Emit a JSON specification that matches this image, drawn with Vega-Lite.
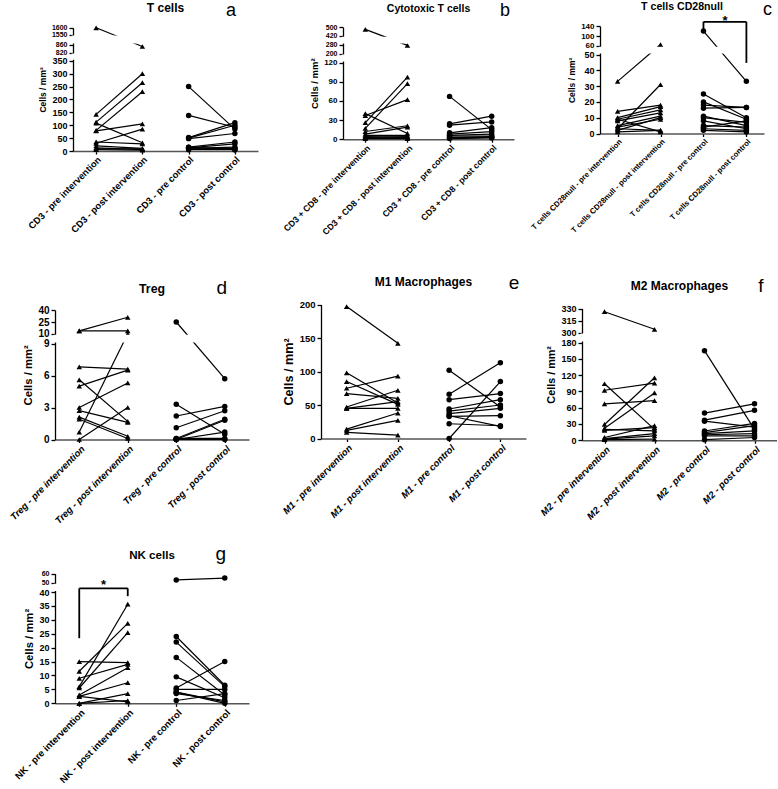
{
"$schema": "https://vega.github.io/schema/vega-lite/v6.json",
"background": "white",
"padding": {"left": 8, "top": 0, "right": 0, "bottom": 0},
"columns": 3,
"spacing": 0,
"bounds": "flush",
"align": {"row": "each", "column": "each"},
"resolve": {"scale": {"x": "independent", "y": "independent"}, "axis": {"x": "independent", "y": "independent"}},
"config": {
 "view": {"stroke": null},
 "font": "Liberation Sans",
 "axis": {"domainColor": "black", "domainWidth": 1.3, "tickColor": "black", "tickWidth": 1.3, "labelColor": "black", "titleColor": "black", "labelFontWeight": "bold", "titleFontWeight": "bold", "grid": false, "labelFont": "Liberation Sans", "titleFont": "Liberation Sans", "tickSize": 4, "labelPadding": 2, "titlePadding": 4, "labelOverlap": false},
 "axisY": {"tickCount": 40, "format": "d"},
 "axisX": {"domainColor": "#555555", "domainWidth": 1.6, "tickSize": 3, "labelAngle": -45, "labelPadding": 1}
},
"datasets": {
 "a": [
  {"id":1,"cat":"pre intervention","v":1600},{"id":1,"cat":"post intervention","v":850},
  {"id":2,"cat":"pre intervention","v":142},{"id":2,"cat":"post intervention","v":300},
  {"id":3,"cat":"pre intervention","v":112},{"id":3,"cat":"post intervention","v":265},
  {"id":4,"cat":"pre intervention","v":80},{"id":4,"cat":"post intervention","v":230},
  {"id":5,"cat":"pre intervention","v":108},{"id":5,"cat":"post intervention","v":32},
  {"id":6,"cat":"pre intervention","v":78},{"id":6,"cat":"post intervention","v":105},
  {"id":7,"cat":"pre intervention","v":30},{"id":7,"cat":"post intervention","v":85},
  {"id":8,"cat":"pre intervention","v":35},{"id":8,"cat":"post intervention","v":28},
  {"id":9,"cat":"pre intervention","v":20},{"id":9,"cat":"post intervention","v":10},
  {"id":10,"cat":"pre intervention","v":12},{"id":10,"cat":"post intervention","v":5},
  {"id":11,"cat":"pre intervention","v":5},{"id":11,"cat":"post intervention","v":3},
  {"id":12,"cat":"pre intervention","v":8},{"id":12,"cat":"post intervention","v":8},
  {"id":13,"cat":"pre control","v":250},{"id":13,"cat":"post control","v":85},
  {"id":14,"cat":"pre control","v":138},{"id":14,"cat":"post control","v":92},
  {"id":15,"cat":"pre control","v":52},{"id":15,"cat":"post control","v":110},
  {"id":16,"cat":"pre control","v":50},{"id":16,"cat":"post control","v":100},
  {"id":17,"cat":"pre control","v":48},{"id":17,"cat":"post control","v":68},
  {"id":18,"cat":"pre control","v":15},{"id":18,"cat":"post control","v":35},
  {"id":19,"cat":"pre control","v":12},{"id":19,"cat":"post control","v":28},
  {"id":20,"cat":"pre control","v":10},{"id":20,"cat":"post control","v":15},
  {"id":21,"cat":"pre control","v":8},{"id":21,"cat":"post control","v":10},
  {"id":22,"cat":"pre control","v":5},{"id":22,"cat":"post control","v":5},
  {"id":23,"cat":"pre control","v":15},{"id":23,"cat":"post control","v":5}
 ],
 "b": [
  {"id":1,"cat":"pre intervention","v":480},{"id":1,"cat":"post intervention","v":272},
  {"id":2,"cat":"pre intervention","v":40},{"id":2,"cat":"post intervention","v":9},
  {"id":3,"cat":"pre intervention","v":37},{"id":3,"cat":"post intervention","v":62},
  {"id":4,"cat":"pre intervention","v":26},{"id":4,"cat":"post intervention","v":97},
  {"id":5,"cat":"pre intervention","v":17},{"id":5,"cat":"post intervention","v":87},
  {"id":6,"cat":"pre intervention","v":12},{"id":6,"cat":"post intervention","v":21},
  {"id":7,"cat":"pre intervention","v":8},{"id":7,"cat":"post intervention","v":19},
  {"id":8,"cat":"pre intervention","v":6},{"id":8,"cat":"post intervention","v":6},
  {"id":9,"cat":"pre intervention","v":4},{"id":9,"cat":"post intervention","v":3},
  {"id":10,"cat":"pre intervention","v":3},{"id":10,"cat":"post intervention","v":4},
  {"id":11,"cat":"pre intervention","v":2},{"id":11,"cat":"post intervention","v":2},
  {"id":12,"cat":"pre intervention","v":1},{"id":12,"cat":"post intervention","v":1},
  {"id":13,"cat":"pre control","v":67},{"id":13,"cat":"post control","v":15},
  {"id":14,"cat":"pre control","v":24},{"id":14,"cat":"post control","v":36},
  {"id":15,"cat":"pre control","v":22},{"id":15,"cat":"post control","v":27},
  {"id":16,"cat":"pre control","v":10},{"id":16,"cat":"post control","v":18},
  {"id":17,"cat":"pre control","v":8},{"id":17,"cat":"post control","v":12},
  {"id":18,"cat":"pre control","v":6},{"id":18,"cat":"post control","v":8},
  {"id":19,"cat":"pre control","v":5},{"id":19,"cat":"post control","v":5},
  {"id":20,"cat":"pre control","v":3},{"id":20,"cat":"post control","v":4},
  {"id":21,"cat":"pre control","v":2},{"id":21,"cat":"post control","v":3},
  {"id":22,"cat":"pre control","v":1},{"id":22,"cat":"post control","v":2}
 ],
 "c": [
  {"id":1,"cat":"pre intervention","v":33},{"id":1,"cat":"post intervention","v":65},
  {"id":2,"cat":"pre intervention","v":3},{"id":2,"cat":"post intervention","v":31},
  {"id":3,"cat":"pre intervention","v":14},{"id":3,"cat":"post intervention","v":18},
  {"id":4,"cat":"pre intervention","v":10},{"id":4,"cat":"post intervention","v":17},
  {"id":5,"cat":"pre intervention","v":9},{"id":5,"cat":"post intervention","v":15},
  {"id":6,"cat":"pre intervention","v":8},{"id":6,"cat":"post intervention","v":13},
  {"id":7,"cat":"pre intervention","v":5},{"id":7,"cat":"post intervention","v":11},
  {"id":8,"cat":"pre intervention","v":4},{"id":8,"cat":"post intervention","v":9},
  {"id":9,"cat":"pre intervention","v":2},{"id":9,"cat":"post intervention","v":10},
  {"id":10,"cat":"pre intervention","v":1},{"id":10,"cat":"post intervention","v":2},
  {"id":11,"cat":"pre intervention","v":9},{"id":11,"cat":"post intervention","v":1},
  {"id":12,"cat":"pre intervention","v":3},{"id":12,"cat":"post intervention","v":2},
  {"id":13,"cat":"pre control","v":120},{"id":13,"cat":"post control","v":33},
  {"id":14,"cat":"pre control","v":25},{"id":14,"cat":"post control","v":10},
  {"id":15,"cat":"pre control","v":20},{"id":15,"cat":"post control","v":9},
  {"id":16,"cat":"pre control","v":18},{"id":16,"cat":"post control","v":16.5},
  {"id":17,"cat":"pre control","v":16},{"id":17,"cat":"post control","v":16.5},
  {"id":18,"cat":"pre control","v":11},{"id":18,"cat":"post control","v":5},
  {"id":19,"cat":"pre control","v":10},{"id":19,"cat":"post control","v":7},
  {"id":20,"cat":"pre control","v":8},{"id":20,"cat":"post control","v":3},
  {"id":21,"cat":"pre control","v":5},{"id":21,"cat":"post control","v":4},
  {"id":22,"cat":"pre control","v":4},{"id":22,"cat":"post control","v":8},
  {"id":23,"cat":"pre control","v":3},{"id":23,"cat":"post control","v":2},
  {"id":24,"cat":"pre control","v":2},{"id":24,"cat":"post control","v":1}
 ],
 "d": [
  {"id":1,"cat":"pre intervention","v":13.7},{"id":1,"cat":"post intervention","v":31},
  {"id":2,"cat":"pre intervention","v":13.7},{"id":2,"cat":"post intervention","v":13.7},
  {"id":3,"cat":"pre intervention","v":0.7},{"id":3,"cat":"post intervention","v":10},
  {"id":4,"cat":"pre intervention","v":6.8},{"id":4,"cat":"post intervention","v":6.6},
  {"id":5,"cat":"pre intervention","v":5.0},{"id":5,"cat":"post intervention","v":6.5},
  {"id":6,"cat":"pre intervention","v":3.0},{"id":6,"cat":"post intervention","v":5.3},
  {"id":7,"cat":"pre intervention","v":5.6},{"id":7,"cat":"post intervention","v":1.7},
  {"id":8,"cat":"pre intervention","v":2.7},{"id":8,"cat":"post intervention","v":1.6},
  {"id":9,"cat":"pre intervention","v":0},{"id":9,"cat":"post intervention","v":3.0},
  {"id":10,"cat":"pre intervention","v":2.1},{"id":10,"cat":"post intervention","v":0.3},
  {"id":11,"cat":"pre intervention","v":1.9},{"id":11,"cat":"post intervention","v":0.1},
  {"id":12,"cat":"pre control","v":25},{"id":12,"cat":"post control","v":5.7},
  {"id":13,"cat":"pre control","v":3.3},{"id":13,"cat":"post control","v":0.5},
  {"id":14,"cat":"pre control","v":2.2},{"id":14,"cat":"post control","v":3.1},
  {"id":15,"cat":"pre control","v":1.1},{"id":15,"cat":"post control","v":2.7},
  {"id":16,"cat":"pre control","v":0.1},{"id":16,"cat":"post control","v":1.9},
  {"id":17,"cat":"pre control","v":0},{"id":17,"cat":"post control","v":1.8},
  {"id":18,"cat":"pre control","v":0},{"id":18,"cat":"post control","v":0.7},
  {"id":19,"cat":"pre control","v":0.1},{"id":19,"cat":"post control","v":0.1},
  {"id":20,"cat":"pre control","v":0},{"id":20,"cat":"post control","v":0}
 ],
 "e": [
  {"id":1,"cat":"pre intervention","v":197},{"id":1,"cat":"post intervention","v":142},
  {"id":2,"cat":"pre intervention","v":98},{"id":2,"cat":"post intervention","v":53},
  {"id":3,"cat":"pre intervention","v":85},{"id":3,"cat":"post intervention","v":51},
  {"id":4,"cat":"pre intervention","v":75},{"id":4,"cat":"post intervention","v":93},
  {"id":5,"cat":"pre intervention","v":67},{"id":5,"cat":"post intervention","v":60},
  {"id":6,"cat":"pre intervention","v":47},{"id":6,"cat":"post intervention","v":72},
  {"id":7,"cat":"pre intervention","v":45},{"id":7,"cat":"post intervention","v":55},
  {"id":8,"cat":"pre intervention","v":14},{"id":8,"cat":"post intervention","v":38},
  {"id":9,"cat":"pre intervention","v":12},{"id":9,"cat":"post intervention","v":27},
  {"id":10,"cat":"pre intervention","v":9},{"id":10,"cat":"post intervention","v":5},
  {"id":11,"cat":"pre intervention","v":45},{"id":11,"cat":"post intervention","v":45},
  {"id":12,"cat":"pre control","v":102},{"id":12,"cat":"post control","v":47},
  {"id":13,"cat":"pre control","v":66},{"id":13,"cat":"post control","v":113},
  {"id":14,"cat":"pre control","v":58},{"id":14,"cat":"post control","v":67},
  {"id":15,"cat":"pre control","v":44},{"id":15,"cat":"post control","v":58},
  {"id":16,"cat":"pre control","v":41},{"id":16,"cat":"post control","v":50},
  {"id":17,"cat":"pre control","v":37},{"id":17,"cat":"post control","v":45},
  {"id":18,"cat":"pre control","v":33},{"id":18,"cat":"post control","v":34},
  {"id":19,"cat":"pre control","v":22},{"id":19,"cat":"post control","v":19},
  {"id":20,"cat":"pre control","v":0},{"id":20,"cat":"post control","v":85},
  {"id":21,"cat":"pre control","v":34},{"id":21,"cat":"post control","v":18}
 ],
 "f": [
  {"id":1,"cat":"pre intervention","v":326},{"id":1,"cat":"post intervention","v":304},
  {"id":2,"cat":"pre intervention","v":92},{"id":2,"cat":"post intervention","v":105},
  {"id":3,"cat":"pre intervention","v":67},{"id":3,"cat":"post intervention","v":73},
  {"id":4,"cat":"pre intervention","v":104},{"id":4,"cat":"post intervention","v":20},
  {"id":5,"cat":"pre intervention","v":29},{"id":5,"cat":"post intervention","v":115},
  {"id":6,"cat":"pre intervention","v":22},{"id":6,"cat":"post intervention","v":87},
  {"id":7,"cat":"pre intervention","v":18},{"id":7,"cat":"post intervention","v":23},
  {"id":8,"cat":"pre intervention","v":5},{"id":8,"cat":"post intervention","v":27},
  {"id":9,"cat":"pre intervention","v":3},{"id":9,"cat":"post intervention","v":12},
  {"id":10,"cat":"pre intervention","v":2},{"id":10,"cat":"post intervention","v":8},
  {"id":11,"cat":"pre intervention","v":1},{"id":11,"cat":"post intervention","v":2},
  {"id":12,"cat":"pre intervention","v":20},{"id":12,"cat":"post intervention","v":17},
  {"id":13,"cat":"pre control","v":165},{"id":13,"cat":"post control","v":20},
  {"id":14,"cat":"pre control","v":50},{"id":14,"cat":"post control","v":67},
  {"id":15,"cat":"pre control","v":37},{"id":15,"cat":"post control","v":55},
  {"id":16,"cat":"pre control","v":35},{"id":16,"cat":"post control","v":24},
  {"id":17,"cat":"pre control","v":17},{"id":17,"cat":"post control","v":31},
  {"id":18,"cat":"pre control","v":14},{"id":18,"cat":"post control","v":27},
  {"id":19,"cat":"pre control","v":12},{"id":19,"cat":"post control","v":17},
  {"id":20,"cat":"pre control","v":10},{"id":20,"cat":"post control","v":12},
  {"id":21,"cat":"pre control","v":8},{"id":21,"cat":"post control","v":8},
  {"id":22,"cat":"pre control","v":1},{"id":22,"cat":"post control","v":5}
 ],
 "g": [
  {"id":1,"cat":"pre intervention","v":15},{"id":1,"cat":"post intervention","v":14.6},
  {"id":2,"cat":"pre intervention","v":11.5},{"id":2,"cat":"post intervention","v":28.7},
  {"id":3,"cat":"pre intervention","v":9},{"id":3,"cat":"post intervention","v":14},
  {"id":4,"cat":"pre intervention","v":6},{"id":4,"cat":"post intervention","v":35.6},
  {"id":5,"cat":"pre intervention","v":5.5},{"id":5,"cat":"post intervention","v":25.4},
  {"id":6,"cat":"pre intervention","v":3},{"id":6,"cat":"post intervention","v":12.8},
  {"id":7,"cat":"pre intervention","v":2.5},{"id":7,"cat":"post intervention","v":7.4},
  {"id":8,"cat":"pre intervention","v":0},{"id":8,"cat":"post intervention","v":3.5},
  {"id":9,"cat":"pre intervention","v":0},{"id":9,"cat":"post intervention","v":1},
  {"id":10,"cat":"pre intervention","v":2.5},{"id":10,"cat":"post intervention","v":0.5},
  {"id":11,"cat":"pre control","v":53},{"id":11,"cat":"post control","v":55},
  {"id":12,"cat":"pre control","v":24},{"id":12,"cat":"post control","v":6.5},
  {"id":13,"cat":"pre control","v":22},{"id":13,"cat":"post control","v":6},
  {"id":14,"cat":"pre control","v":16.5},{"id":14,"cat":"post control","v":3},
  {"id":15,"cat":"pre control","v":9.5},{"id":15,"cat":"post control","v":2},
  {"id":16,"cat":"pre control","v":5.5},{"id":16,"cat":"post control","v":15},
  {"id":17,"cat":"pre control","v":5},{"id":17,"cat":"post control","v":5},
  {"id":18,"cat":"pre control","v":4},{"id":18,"cat":"post control","v":0.5},
  {"id":19,"cat":"pre control","v":3.5},{"id":19,"cat":"post control","v":1},
  {"id":20,"cat":"pre control","v":1},{"id":20,"cat":"post control","v":3.5},
  {"id":21,"cat":"pre control","v":4},{"id":21,"cat":"post control","v":0}
 ]
},
"concat": [
 {
  "width": 266, "height": 124,
  "data": {"name": "a"},
  "layer": [
   {"encoding": {
     "x": {"field": "cat", "type": "nominal", "title": null, "scale": {"type": "point", "domain": ["pre intervention","post intervention","pre control","post control"], "range": [18, 203], "padding": 0.5}, "axis": {"labelExpr": "'CD3 - ' + datum.label", "labelFontSize": 9.4, "labelOverlap": false}},
     "y": {"field": "v", "type": "quantitative", "title": "Cells / mm²", "scale": {"domain": [0,350,820,860,1550,1600], "range": [124,33.8,25.5,17.5,7.5,0.8], "nice": false, "zero": false}, "axis": {"values": [0,50,100,150,200,250,300,350,820,860,1550,1600], "format": "d", "tickCount": 40, "offset": -18, "labelOverlap": false, "labelFontSize": {"condition": {"test": "datum.value > 350", "value": 7}, "value": 9}, "titleFontSize": 8.5}}},
    "layer": [
     {"mark": {"type": "line", "color": "black", "strokeWidth": 1.2}, "encoding": {"detail": {"field": "id", "type": "nominal"}}},
     {"mark": {"type": "point", "filled": true, "color": "black", "opacity": 1, "size": 30}, "encoding": {"shape": {"field": "cat", "type": "nominal", "scale": {"domain": ["pre intervention","post intervention","pre control","post control"], "range": ["triangle-up","triangle-up","circle","circle"]}, "legend": null}}}
    ]},
   {"data": {"values": [{}]}, "mark": {"type": "rect", "color": "white", "xOffset": -24.6, "x2Offset": 23.1}, "encoding": {"x": {"datum": "pre intervention", "title": null}, "x2": {"datum": "post control"}, "y": {"datum": 407, "title": "Cells / mm²"}, "y2": {"datum": 763}}},
   {"data": {"values": [{}]}, "mark": {"type": "rect", "color": "white", "xOffset": -24.6, "x2Offset": 23.1}, "encoding": {"x": {"datum": "pre intervention", "title": null}, "x2": {"datum": "post control"}, "y": {"datum": 929, "title": "Cells / mm²"}, "y2": {"datum": 1481}}},
   {"data": {"values": [{}]}, "mark": {"type": "text", "text": "T cells", "fontSize": 12, "fontWeight": "bold", "align": "center", "baseline": "alphabetic", "dx": 23.1, "dy": -15.5, "color": "black"}, "encoding": {"x": {"datum": "post intervention", "title": null}, "y": {"datum": 1600, "title": "Cells / mm²"}}},
   {"data": {"values": [{}]}, "mark": {"type": "text", "text": "a", "font": "Liberation Sans", "fontSize": 18, "align": "center", "baseline": "alphabetic", "dx": -4, "dy": -12.3, "color": "black"}, "encoding": {"x": {"datum": "post control", "title": null}, "y": {"datum": 1600, "title": "Cells / mm²"}}}
  ]
 },
 {
  "width": 261, "height": 112.2,
  "data": {"name": "b"},
  "layer": [
   {"encoding": {
     "x": {"field": "cat", "type": "nominal", "title": null, "scale": {"type": "point", "domain": ["pre intervention","post intervention","pre control","post control"], "range": [22, 193], "padding": 0.53}, "axis": {"labelExpr": "'CD3 + CD8 - ' + datum.label", "labelFontSize": 8.7, "labelOverlap": false}},
     "y": {"field": "v", "type": "quantitative", "title": "Cells / mm²", "scale": {"domain": [0,120,200,280,420,500], "range": [112.2,35.5,26.5,17.5,8.8,0.2], "nice": false, "zero": false}, "axis": {"values": [0,30,60,90,120,200,280,420,500], "format": "d", "tickCount": 40, "offset": -22, "labelOverlap": false, "labelFontSize": {"condition": {"test": "datum.value > 120", "value": 7}, "value": 8}, "titleFontSize": 9.5}}},
    "layer": [
     {"mark": {"type": "line", "color": "black", "strokeWidth": 1.2}, "encoding": {"detail": {"field": "id", "type": "nominal"}}},
     {"mark": {"type": "point", "filled": true, "color": "black", "opacity": 1, "size": 30}, "encoding": {"shape": {"field": "cat", "type": "nominal", "scale": {"domain": ["pre intervention","post intervention","pre control","post control"], "range": ["triangle-up","triangle-up","circle","circle"]}, "legend": null}}}
    ]},
   {"data": {"values": [{}]}, "mark": {"type": "rect", "color": "white", "xOffset": -23.8, "x2Offset": 22.3}, "encoding": {"x": {"datum": "pre intervention", "title": null}, "x2": {"datum": "post control"}, "y": {"datum": 129, "title": "Cells / mm²"}, "y2": {"datum": 191}}},
   {"data": {"values": [{}]}, "mark": {"type": "rect", "color": "white", "xOffset": -23.8, "x2Offset": 22.3}, "encoding": {"x": {"datum": "pre intervention", "title": null}, "x2": {"datum": "post control"}, "y": {"datum": 296, "title": "Cells / mm²"}, "y2": {"datum": 404}}},
   {"data": {"values": [{}]}, "mark": {"type": "text", "text": "Cytotoxic T cells", "fontSize": 10.5, "fontWeight": "bold", "align": "center", "baseline": "alphabetic", "dx": 21.1, "dy": -15.5, "color": "black"}, "encoding": {"x": {"datum": "post intervention", "title": null}, "y": {"datum": 500, "title": "Cells / mm²"}}},
   {"data": {"values": [{}]}, "mark": {"type": "text", "text": "b", "font": "Liberation Sans", "fontSize": 18, "align": "center", "baseline": "alphabetic", "dx": 13.4, "dy": -11.7, "color": "black"}, "encoding": {"x": {"datum": "post control", "title": null}, "y": {"datum": 500, "title": "Cells / mm²"}}}
  ]
 },
 {
  "width": 182, "height": 106.5,
  "data": {"name": "c"},
  "layer": [
   {"encoding": {
     "x": {"field": "cat", "type": "nominal", "title": null, "scale": {"type": "point", "domain": ["pre intervention","post intervention","pre control","post control"], "range": [18, 182], "padding": 0.41}, "axis": {"labelExpr": "'T cells CD28null - ' + datum.label", "labelFontSize": 7.7, "labelOverlap": false}},
     "y": {"field": "v", "type": "quantitative", "title": "Cells / mm²", "scale": {"domain": [0,50,60,140], "range": [106.5,27.5,18.8,-0.8], "nice": false, "zero": false}, "axis": {"values": [0,10,20,30,40,50,60,100,140], "format": "d", "tickCount": 40, "offset": -18, "labelOverlap": false, "labelFontSize": {"condition": {"test": "datum.value > 50", "value": 8}, "value": 9}, "titleFontSize": 8.5}}},
    "layer": [
     {"mark": {"type": "line", "color": "black", "strokeWidth": 1.2}, "encoding": {"detail": {"field": "id", "type": "nominal"}}},
     {"mark": {"type": "point", "filled": true, "color": "black", "opacity": 1, "size": 30}, "encoding": {"shape": {"field": "cat", "type": "nominal", "scale": {"domain": ["pre intervention","post intervention","pre control","post control"], "range": ["triangle-up","triangle-up","circle","circle"]}, "legend": null}}}
    ]},
   {"data": {"values": [{}]}, "mark": {"type": "rect", "color": "white", "xOffset": -19.1, "x2Offset": 17.6}, "encoding": {"x": {"datum": "pre intervention", "title": null}, "x2": {"datum": "post control"}, "y": {"datum": 51.2, "title": "Cells / mm²"}, "y2": {"datum": 58.8}}},
   {"data": {"values": [{}]}, "mark": {"type": "rule", "color": "black", "strokeWidth": 1.8}, "encoding": {"x": {"datum": "pre control", "title": null}, "x2": {"datum": "post control"}, "y": {"datum": 158, "title": "Cells / mm²"}}},
   {"data": {"values": [{}]}, "mark": {"type": "rule", "color": "black", "strokeWidth": 1.8}, "encoding": {"x": {"datum": "pre control", "title": null}, "y": {"datum": 158, "title": "Cells / mm²"}, "y2": {"datum": 128}}},
   {"data": {"values": [{}]}, "mark": {"type": "rule", "color": "black", "strokeWidth": 1.8}, "encoding": {"x": {"datum": "post control", "title": null}, "y": {"datum": 158, "title": "Cells / mm²"}, "y2": {"datum": 44.7}}},
   {"data": {"values": [{}]}, "mark": {"type": "text", "text": "*", "fontSize": 13, "fontWeight": "bold", "align": "center", "baseline": "alphabetic", "dx": 21.5, "dy": 3, "color": "black"}, "encoding": {"x": {"datum": "pre control", "title": null}, "y": {"datum": 158, "title": "Cells / mm²"}}},
   {"data": {"values": [{}]}, "mark": {"type": "text", "text": "T cells CD28null", "fontSize": 10.6, "fontWeight": "bold", "align": "center", "baseline": "alphabetic", "dx": 21.5, "dy": -16.5, "color": "black"}, "encoding": {"x": {"datum": "post intervention", "title": null}, "y": {"datum": 140, "title": "Cells / mm²"}}},
   {"data": {"values": [{}]}, "mark": {"type": "text", "text": "c", "font": "Liberation Sans", "fontSize": 18, "align": "center", "baseline": "alphabetic", "dx": 21, "dy": -11.5, "color": "black"}, "encoding": {"x": {"datum": "post control", "title": null}, "y": {"datum": 140, "title": "Cells / mm²"}}}
  ]
 },
 {
  "width": 266, "height": 288.5,
  "data": {"name": "d"},
  "layer": [
   {"encoding": {
     "x": {"field": "cat", "type": "nominal", "title": null, "scale": {"type": "point", "domain": ["pre intervention","post intervention","pre control","post control"], "range": [0, 194], "padding": 0.5}, "axis": {"labelExpr": "'Treg - ' + datum.label", "labelFontSize": 9.5, "labelFontStyle": "italic", "labelOverlap": false}},
     "y": {"field": "v", "type": "quantitative", "title": "Cells / mm²", "scale": {"domain": [0,9,10,40], "range": [288.5,192.5,182.8,159.2], "nice": false, "zero": false}, "axis": {"values": [0,3,6,9,10,25,40], "format": "d", "tickCount": 40, "labelOverlap": false, "labelFontSize": 10, "titleFontSize": 11.3}}},
    "layer": [
     {"mark": {"type": "line", "color": "black", "strokeWidth": 1.2}, "encoding": {"detail": {"field": "id", "type": "nominal"}}},
     {"mark": {"type": "point", "filled": true, "color": "black", "opacity": 1, "size": 30}, "encoding": {"shape": {"field": "cat", "type": "nominal", "scale": {"domain": ["pre intervention","post intervention","pre control","post control"], "range": ["triangle-up","triangle-up","circle","circle"]}, "legend": null}}}
    ]},
   {"data": {"values": [{}]}, "mark": {"type": "rect", "color": "white", "xOffset": -25.75, "x2Offset": 24.25}, "encoding": {"x": {"datum": "pre intervention", "title": null}, "x2": {"datum": "post control"}, "y": {"datum": 9.1, "title": "Cells / mm²"}, "y2": {"datum": 9.9}}},
   {"data": {"values": [{}]}, "mark": {"type": "text", "text": "Treg", "fontSize": 12.3, "fontWeight": "bold", "align": "center", "baseline": "alphabetic", "dx": 24.25, "dy": -17.7, "color": "black"}, "encoding": {"x": {"datum": "post intervention", "title": null}, "y": {"datum": 40, "title": "Cells / mm²"}}},
   {"data": {"values": [{}]}, "mark": {"type": "text", "text": "d", "font": "Liberation Sans", "fontSize": 19, "align": "center", "baseline": "alphabetic", "dx": -3, "dy": -16.7, "color": "black"}, "encoding": {"x": {"datum": "post control", "title": null}, "y": {"datum": 40, "title": "Cells / mm²"}}}
  ]
 },
 {
  "width": 261, "height": 287.5,
  "data": {"name": "e"},
  "layer": [
   {"encoding": {
     "x": {"field": "cat", "type": "nominal", "title": null, "scale": {"type": "point", "domain": ["pre intervention","post intervention","pre control","post control"], "range": [0, 205], "padding": 0.5}, "axis": {"labelExpr": "'M1 - ' + datum.label", "labelFontSize": 9.5, "labelFontStyle": "italic", "labelOverlap": false}},
     "y": {"field": "v", "type": "quantitative", "title": "Cells / mm²", "scale": {"domain": [0,200], "range": [287.5,153.5], "nice": false, "zero": false}, "axis": {"values": [0,50,100,150,200], "format": "d", "tickCount": 40, "labelOverlap": false, "labelFontSize": 9.5, "titleFontSize": 12.6}}},
    "layer": [
     {"mark": {"type": "line", "color": "black", "strokeWidth": 1.2}, "encoding": {"detail": {"field": "id", "type": "nominal"}}},
     {"mark": {"type": "point", "filled": true, "color": "black", "opacity": 1, "size": 30}, "encoding": {"shape": {"field": "cat", "type": "nominal", "scale": {"domain": ["pre intervention","post intervention","pre control","post control"], "range": ["triangle-up","triangle-up","circle","circle"]}, "legend": null}}}
    ]},
   {"data": {"values": [{}]}, "mark": {"type": "text", "text": "M1 Macrophages", "fontSize": 12, "fontWeight": "bold", "align": "center", "baseline": "alphabetic", "dx": 25.6, "dy": -18.7, "color": "black"}, "encoding": {"x": {"datum": "post intervention", "title": null}, "y": {"datum": 200, "title": "Cells / mm²"}}},
   {"data": {"values": [{}]}, "mark": {"type": "text", "text": "e", "font": "Liberation Sans", "fontSize": 19, "align": "center", "baseline": "alphabetic", "dx": 13.6, "dy": -16, "color": "black"}, "encoding": {"x": {"datum": "post control", "title": null}, "y": {"datum": 200, "title": "Cells / mm²"}}}
  ]
 },
 {
  "width": 195, "height": 289.2,
  "data": {"name": "f"},
  "layer": [
   {"encoding": {
     "x": {"field": "cat", "type": "nominal", "title": null, "scale": {"type": "point", "domain": ["pre intervention","post intervention","pre control","post control"], "range": [0, 195], "padding": 0.45}, "axis": {"labelExpr": "'M2 - ' + datum.label", "labelFontSize": 9.5, "labelFontStyle": "italic", "labelOverlap": false}},
     "y": {"field": "v", "type": "quantitative", "title": "Cells / mm²", "scale": {"domain": [0,180,300,330], "range": [289.2,191.5,181.5,157.5], "nice": false, "zero": false}, "axis": {"values": [0,30,60,90,120,150,180,300,315,330], "format": "d", "tickCount": 40, "labelOverlap": false, "labelFontSize": 9, "titleFontSize": 10.8}}},
    "layer": [
     {"mark": {"type": "line", "color": "black", "strokeWidth": 1.2}, "encoding": {"detail": {"field": "id", "type": "nominal"}}},
     {"mark": {"type": "point", "filled": true, "color": "black", "opacity": 1, "size": 30}, "encoding": {"shape": {"field": "cat", "type": "nominal", "scale": {"domain": ["pre intervention","post intervention","pre control","post control"], "range": ["triangle-up","triangle-up","circle","circle"]}, "legend": null}}}
    ]},
   {"data": {"values": [{}]}, "mark": {"type": "rect", "color": "white", "xOffset": -24, "x2Offset": 22.5}, "encoding": {"x": {"datum": "pre intervention", "title": null}, "x2": {"datum": "post control"}, "y": {"datum": 192, "title": "Cells / mm²"}, "y2": {"datum": 288}}},
   {"data": {"values": [{}]}, "mark": {"type": "text", "text": "M2 Macrophages", "fontSize": 12, "fontWeight": "bold", "align": "center", "baseline": "alphabetic", "dx": 25, "dy": -18.3, "color": "black"}, "encoding": {"x": {"datum": "post intervention", "title": null}, "y": {"datum": 330, "title": "Cells / mm²"}}},
   {"data": {"values": [{}]}, "mark": {"type": "text", "text": "f", "font": "Liberation Sans", "fontSize": 19, "align": "center", "baseline": "alphabetic", "dx": 6.5, "dy": -17, "color": "black"}, "encoding": {"x": {"datum": "post control", "title": null}, "y": {"datum": 330, "title": "Cells / mm²"}}}
  ]
 },
 {
  "width": 194, "height": 262.3,
  "data": {"name": "g"},
  "layer": [
   {"encoding": {
     "x": {"field": "cat", "type": "nominal", "title": null, "scale": {"type": "point", "domain": ["pre intervention","post intervention","pre control","post control"], "range": [0, 194], "padding": 0.5}, "axis": {"labelExpr": "'NK - ' + datum.label", "labelFontSize": 9.5, "labelOverlap": false}},
     "y": {"field": "v", "type": "quantitative", "title": "Cells / mm²", "scale": {"domain": [0,40,50,60], "range": [262.3,151,141.6,132.6], "nice": false, "zero": false}, "axis": {"values": [0,5,10,15,20,25,30,35,40,50,60], "format": "d", "tickCount": 40, "labelOverlap": false, "labelFontSize": {"condition": {"test": "datum.value > 40", "value": 7}, "value": 9}, "titleFontSize": 11.3}}},
    "layer": [
     {"mark": {"type": "line", "color": "black", "strokeWidth": 1.2}, "encoding": {"detail": {"field": "id", "type": "nominal"}}},
     {"mark": {"type": "point", "filled": true, "color": "black", "opacity": 1, "size": 30}, "encoding": {"shape": {"field": "cat", "type": "nominal", "scale": {"domain": ["pre intervention","post intervention","pre control","post control"], "range": ["triangle-up","triangle-up","circle","circle"]}, "legend": null}}}
    ]},
   {"data": {"values": [{}]}, "mark": {"type": "rect", "color": "white", "xOffset": -25.75, "x2Offset": 24.25}, "encoding": {"x": {"datum": "pre intervention", "title": null}, "x2": {"datum": "post control"}, "y": {"datum": 41.1, "title": "Cells / mm²"}, "y2": {"datum": 48.9}}},
   {"data": {"values": [{}]}, "mark": {"type": "rule", "color": "black", "strokeWidth": 1.8}, "encoding": {"x": {"datum": "pre intervention", "title": null}, "x2": {"datum": "post intervention"}, "y": {"datum": 43.9, "title": "Cells / mm²"}}},
   {"data": {"values": [{}]}, "mark": {"type": "rule", "color": "black", "strokeWidth": 1.8}, "encoding": {"x": {"datum": "pre intervention", "title": null}, "y": {"datum": 43.9, "title": "Cells / mm²"}, "y2": {"datum": 23.4}}},
   {"data": {"values": [{}]}, "mark": {"type": "rule", "color": "black", "strokeWidth": 1.8}, "encoding": {"x": {"datum": "post intervention", "title": null}, "y": {"datum": 43.9, "title": "Cells / mm²"}, "y2": {"datum": 38.5}}},
   {"data": {"values": [{}]}, "mark": {"type": "text", "text": "*", "fontSize": 13, "fontWeight": "bold", "align": "center", "baseline": "alphabetic", "dx": 24.25, "dy": 0.6, "color": "black"}, "encoding": {"x": {"datum": "pre intervention", "title": null}, "y": {"datum": 43.9, "title": "Cells / mm²"}}},
   {"data": {"values": [{}]}, "mark": {"type": "text", "text": "NK cells", "fontSize": 11.6, "fontWeight": "bold", "align": "center", "baseline": "alphabetic", "dx": 24.25, "dy": -15, "color": "black"}, "encoding": {"x": {"datum": "post intervention", "title": null}, "y": {"datum": 60, "title": "Cells / mm²"}}},
   {"data": {"values": [{}]}, "mark": {"type": "text", "text": "g", "font": "Liberation Sans", "fontSize": 19, "align": "center", "baseline": "alphabetic", "dx": -4, "dy": -13.6, "color": "black"}, "encoding": {"x": {"datum": "post control", "title": null}, "y": {"datum": 60, "title": "Cells / mm²"}}}
  ]
 }
]
}
